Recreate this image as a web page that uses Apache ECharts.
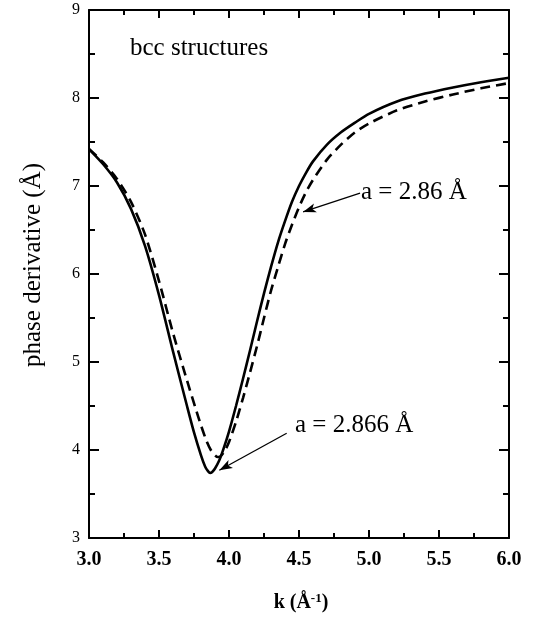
<!DOCTYPE html>
<html>
<head>
<meta charset="utf-8">
<script src="https://cdn.jsdelivr.net/npm/echarts@6/dist/echarts.min.js"></script>
<style>html,body{margin:0;padding:0;background:#fff;}#c{width:535px;height:624px;}</style>
</head>
<body>
<div id="c"></div>
<script>
// a = 2.866 Å (solid)
var kSolid = [3.00,3.10,3.20,3.30,3.40,3.50,3.60,3.70,3.75,3.80,3.83,3.85,3.865,3.88,3.90,3.93,3.96,4.00,4.05,4.10,4.15,4.20,4.25,4.30,4.35,4.40,4.45,4.50,4.55,4.60,4.70,4.80,4.90,5.00,5.20,5.40,5.60,5.80,6.00];
var vSolid = [7.42,7.25,7.04,6.74,6.32,5.76,5.12,4.50,4.20,3.94,3.81,3.76,3.74,3.75,3.79,3.88,4.01,4.21,4.50,4.81,5.13,5.46,5.78,6.08,6.36,6.60,6.82,7.00,7.15,7.28,7.47,7.61,7.72,7.82,7.96,8.05,8.12,8.18,8.23];
// a = 2.86 Å (dashed)
var kDashed = [3.00,3.10,3.20,3.30,3.40,3.50,3.60,3.70,3.76,3.80,3.84,3.87,3.90,3.92,3.94,3.97,4.00,4.05,4.10,4.15,4.20,4.25,4.30,4.35,4.40,4.45,4.50,4.55,4.60,4.70,4.80,4.90,5.00,5.20,5.40,5.60,5.80,6.00];
var vDashed = [7.42,7.27,7.08,6.82,6.45,5.92,5.33,4.79,4.48,4.28,4.10,4.00,3.94,3.92,3.93,3.99,4.09,4.32,4.59,4.88,5.18,5.50,5.81,6.08,6.34,6.56,6.76,6.93,7.07,7.30,7.47,7.61,7.71,7.86,7.96,8.04,8.11,8.17];
var xTicks = {min: 3, max: 6, interval: 0.5};
var yTicks = {min: 3, max: 9, interval: 1};
var arrow1 = [[4.936, 6.92], [4.529, 6.705]];
var arrow2 = [[4.412, 4.19], [3.931, 3.77]];

function pairs(k, v) { return k.map(function (x, i) { return [x, v[i]]; }); }

var serif = '"Liberation Serif", "DejaVu Serif", serif';
var axisCommon = {
  type: 'value',
  axisLine: {show: true, lineStyle: {color: '#000', width: 2}},
  splitLine: {show: false},
  minorSplitLine: {show: false}
};
function xAx(pos, labels) {
  return Object.assign({}, axisCommon, {
    position: pos, min: xTicks.min, max: xTicks.max, interval: xTicks.interval,
    axisTick: {show: true, inside: true, length: 8, lineStyle: {color: '#000', width: 2}},
    minorTick: {show: true, splitNumber: 2, length: 5, lineStyle: {color: '#000', width: 2}},
    axisLabel: {show: labels, color: '#000', fontFamily: serif, fontWeight: 'bold', fontSize: 20, margin: 12,
      formatter: function (v) { return v.toFixed(1); }}
  });
}
function yAx(pos, labels) {
  return Object.assign({}, axisCommon, {
    position: pos, min: yTicks.min, max: yTicks.max, interval: yTicks.interval,
    axisTick: {show: true, inside: true, length: 10, lineStyle: {color: '#000', width: 2}},
    minorTick: {show: true, splitNumber: 2, length: 6, lineStyle: {color: '#000', width: 2}},
    axisLabel: {show: labels, color: '#000', fontFamily: serif, fontSize: 16, margin: 9}
  });
}

var chart = echarts.init(document.getElementById('c'), null, {renderer: 'canvas'});
chart.setOption({
  backgroundColor: '#fff',
  animation: false,
  grid: {left: 89, right: 26, top: 10, bottom: 86, containLabel: false},
  xAxis: [xAx('bottom', true), xAx('top', false)],
  yAxis: [yAx('left', true), yAx('right', false)],
  series: [
    {
      type: 'line', name: 'a = 2.866 Å', data: pairs(kSolid, vSolid), xAxisIndex: 0, yAxisIndex: 0,
      smooth: 0.25, showSymbol: false, symbol: 'none',
      lineStyle: {color: '#000', width: 2.6, type: 'solid'},
      markLine: {
        silent: true, symbol: ['none', 'arrow'], symbolSize: [7, 13],
        lineStyle: {color: '#000', width: 1.3, type: 'solid'}, label: {show: false},
        data: [[{coord: arrow1[0]}, {coord: arrow1[1]}], [{coord: arrow2[0]}, {coord: arrow2[1]}]]
      }
    },
    {
      type: 'line', name: 'a = 2.86 Å', data: pairs(kDashed, vDashed), xAxisIndex: 0, yAxisIndex: 0,
      smooth: 0.25, showSymbol: false, symbol: 'none',
      lineStyle: {color: '#000', width: 2.6, type: [10, 6]}
    }
  ],
  graphic: [
    {type: 'text', left: 130, top: 36, style: {text: 'bcc structures', font: '25px ' + serif, fill: '#000'}},
    {type: 'text', left: 361, top: 180, style: {text: 'a = 2.86 Å', font: '25px ' + serif, fill: '#000'}},
    {type: 'text', left: 295, top: 413, style: {text: 'a = 2.866 Å', font: '25px ' + serif, fill: '#000'}},
    {type: 'text', x: 33, y: 265, rotation: Math.PI / 2,
      style: {text: 'phase derivative (Å)', font: '25px ' + serif, fill: '#000', align: 'center', verticalAlign: 'middle'}},
    {type: 'text', x: 301, y: 603,
      style: {text: '{b|k (Å}{s|-1}{b|)}', align: 'center', verticalAlign: 'middle',
        rich: {b: {fontFamily: serif, fontWeight: 'bold', fontSize: 20, fill: '#000', color: '#000'},
               s: {fontFamily: serif, fontWeight: 'bold', fontSize: 13, color: '#000', verticalAlign: 'top', padding: [0, 0, 8, 0]}}}}
  ]
});
</script>
</body>
</html>
